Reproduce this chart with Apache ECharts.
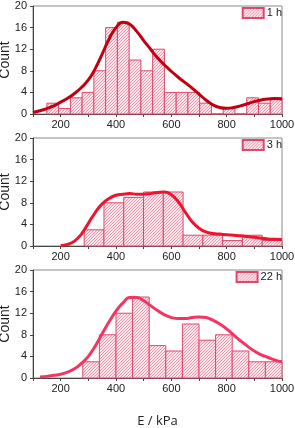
<!DOCTYPE html>
<html>
<head>
<meta charset="utf-8">
<script src="https://cdn.jsdelivr.net/npm/echarts@6/dist/echarts.min.js"></script>
<style>
html,body{margin:0;padding:0;background:#fff;}
#chart{width:295px;height:428px;}
</style>
</head>
<body>
<div id="chart"></div>
<script>
// ---- data ----
const seriesNames = ['1 h', '3 h', '22 h'];

const bins1Start = 150, bins1Width = 42.5;
const counts1 = [2, 1, 3, 4, 8, 16, 17, 10, 8, 12, 4, 4, 4, 2, 0, 1, 0, 3, 2, 3];

const bins2Start = 285, bins2Width = 71.5;
const counts2 = [3, 8, 9, 10, 10, 2, 2, 1, 2, 1];

const bins3Start = 280, bins3Width = 60;
const counts3 = [3, 8, 12, 15, 6, 5, 10, 7, 8, 5, 3, 3];

const fit1X = [100, 125, 150, 175, 200, 225, 250, 275, 300, 325, 350, 375, 400, 425, 450, 475, 500, 525, 550, 575, 600, 625, 650, 675, 700, 725, 750, 775, 800, 825, 850, 875, 900, 925, 950, 975, 1000];
const fit1Y = [0.3, 0.6, 1.0, 1.5, 2.2, 2.9, 3.8, 4.9, 6.3, 8.4, 11.1, 13.9, 16.0, 17.0, 16.6, 15.3, 13.6, 12.0, 10.4, 9.1, 7.9, 6.8, 5.8, 4.8, 3.7, 2.6, 1.7, 1.2, 1.05, 1.2, 1.5, 1.9, 2.3, 2.6, 2.8, 2.85, 2.8];

const fit2X = [200, 225, 250, 275, 300, 325, 350, 375, 400, 425, 450, 475, 500, 525, 550, 575, 600, 625, 650, 675, 700, 725, 750, 775, 800, 825, 850, 875, 900, 925, 950, 975, 1000];
const fit2Y = [0.1, 0.3, 0.9, 2.2, 4.2, 6.2, 7.8, 8.8, 9.4, 9.6, 9.7, 9.6, 9.6, 9.7, 9.9, 10.0, 9.5, 8.2, 6.3, 4.5, 3.3, 2.6, 2.3, 2.2, 2.1, 2.0, 1.9, 1.75, 1.6, 1.45, 1.3, 1.25, 1.2];

const fit3X = [125, 150, 175, 200, 225, 250, 275, 300, 325, 350, 375, 400, 425, 450, 475, 500, 525, 550, 575, 600, 625, 650, 675, 700, 725, 750, 775, 800, 825, 850, 875, 900, 925, 950, 975, 1000];
const fit3Y = [0.2, 0.3, 0.5, 0.7, 1.1, 1.7, 2.7, 4.0, 5.9, 8.2, 10.4, 12.4, 13.9, 14.9, 14.9, 14.3, 13.4, 12.5, 11.7, 11.2, 11.0, 11.0, 11.2, 11.3, 11.2, 10.7, 10.0, 9.1, 8.0, 6.9, 5.9, 5.0, 4.3, 3.8, 3.3, 3.0];

const yTicks = [0, 4, 8, 12, 16, 20];
const xLabelValues = [200, 400, 600, 800, 1000];

// ---- styling helpers ----
function hatch(lineColor, bg) {
  const c = document.createElement('canvas');
  c.width = 3; c.height = 3;
  const ctx = c.getContext('2d');
  ctx.fillStyle = bg; ctx.fillRect(0, 0, 3, 3);
  ctx.fillStyle = lineColor;
  ctx.fillRect(0, 2, 1, 1); ctx.fillRect(1, 1, 1, 1); ctx.fillRect(2, 0, 1, 1);
  return { image: c, repeat: 'repeat' };
}
const pattern = hatch('#f096ab', '#fde6ec');
const barBorder = '#e0476a';
const curveColors = ['#c00010', '#f0122e', '#f23562'];

const gridTops = [6, 138, 270];
const PH = 108;

function binData(start, width, counts) {
  return counts.map((c, i) => [start + i * width, start + (i + 1) * width, c]);
}
const hists = [
  binData(bins1Start, bins1Width, counts1),
  binData(bins2Start, bins2Width, counts2),
  binData(bins3Start, bins3Width, counts3)
];
const fits = [
  fit1X.map((x, i) => [x, fit1Y[i]]),
  fit2X.map((x, i) => [x, fit2Y[i]]),
  fit3X.map((x, i) => [x, fit3Y[i]])
];

const grids = [], xAxes = [], yAxes = [], series = [], legends = [];
for (let k = 0; k < 3; k++) {
  grids.push({
    left: 33, right: 13, top: gridTops[k], height: PH,
    containLabel: false, outerBoundsMode: 'none',
    show: true, borderColor: '#8a8a8a', borderWidth: 1, backgroundColor: 'transparent'
  });
  xAxes.push({
    type: 'value', gridIndex: k, min: 100, max: 1000, interval: 100,
    axisLine: { show: true, onZero: false, lineStyle: { color: '#444', width: 1 } },
    axisTick: { show: true, length: 3, lineStyle: { color: '#444' } },
    splitLine: { show: false },
    axisLabel: {
      margin: 5, color: '#222', fontSize: 11, fontFamily: 'Liberation Sans, Arial',
      formatter: v => (xLabelValues.indexOf(v) >= 0 ? String(v) : '')
    },
    name: k === 2 ? 'E / kPa' : '',
    nameLocation: 'middle', nameGap: 37, nameMoveOverlap: false,
    nameTextStyle: { fontSize: 13, color: '#222', fontFamily: 'Open Sans' }
  });
  yAxes.push({
    type: 'value', gridIndex: k, min: yTicks[0], max: yTicks[yTicks.length - 1], interval: 4,
    axisLine: { show: true, lineStyle: { color: '#444', width: 1 } },
    axisTick: { show: true, length: 3, lineStyle: { color: '#444' } },
    splitLine: { show: false },
    axisLabel: { margin: 6, color: '#222', fontSize: 11, fontFamily: 'Liberation Sans, Arial' },
    name: 'Count', nameLocation: 'middle', nameGap: 21, nameRotate: 90, nameMoveOverlap: false,
    nameTextStyle: { fontSize: 14, color: '#222', fontFamily: 'Liberation Sans, Arial' }
  });
  series.push({
    name: seriesNames[k], type: 'custom', xAxisIndex: k, yAxisIndex: k,
    itemStyle: { color: pattern, borderColor: barBorder, borderWidth: 1 },
    encode: { x: [0, 1], y: 2 },
    data: hists[k],
    renderItem: function (params, api) {
      const p0 = api.coord([api.value(0), api.value(2)]);
      const p1 = api.coord([api.value(1), 0]);
      return {
        type: 'rect',
        shape: { x: p0[0], y: p0[1], width: p1[0] - p0[0], height: p1[1] - p0[1] },
        style: { fill: pattern, stroke: barBorder, lineWidth: 1 }
      };
    },
    z: 2
  });
  series.push({
    name: seriesNames[k] + ' fit', type: 'line', xAxisIndex: k, yAxisIndex: k,
    data: fits[k], smooth: 0.5, showSymbol: false, symbol: 'none',
    lineStyle: { color: curveColors[k], width: 3 }, z: 3, silent: true
  });
  legends.push({
    data: [{ name: seriesNames[k], icon: 'rect' }],
    right: 13, top: gridTops[k] + 1, itemWidth: 21, itemHeight: 10, padding: 0,
    textStyle: { fontSize: 11, color: '#222', fontFamily: 'Liberation Sans, Arial', padding: [0, 0, 0, -2] },
    selectedMode: false
  });
}

const chart = echarts.init(document.getElementById('chart'), null, { renderer: 'canvas' });
chart.setOption({
  animation: false,
  backgroundColor: '#fff',
  grid: grids, xAxis: xAxes, yAxis: yAxes, series: series, legend: legends
});
</script>
</body>
</html>
